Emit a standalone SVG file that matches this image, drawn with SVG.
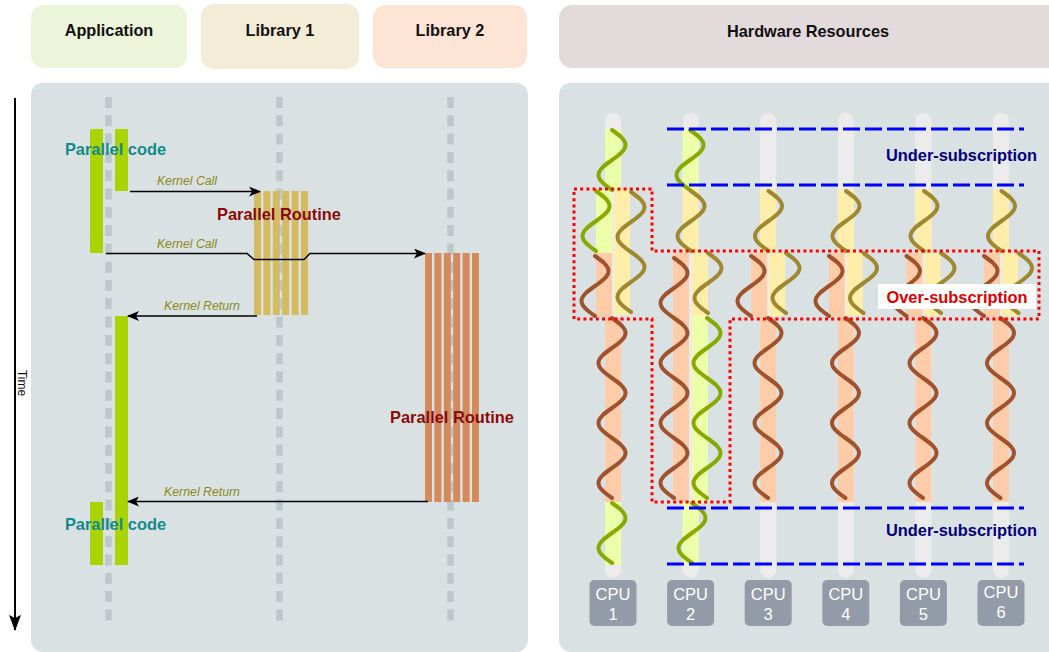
<svg xmlns="http://www.w3.org/2000/svg" xmlns:xlink="http://www.w3.org/1999/xlink" width="1049" height="652" viewBox="0 0 1049 652">
<style>
text{font-family:"Liberation Sans",Arial,sans-serif}
.hdr{font-size:16.3px;font-weight:bold;fill:#111;text-anchor:middle}
.pc{font-size:16.4px;font-weight:bold;fill:#138a8a;text-anchor:middle}
.pr{font-size:16.4px;font-weight:bold;fill:#8b0a0a;text-anchor:middle}
.kl{font-size:12.3px;font-style:italic;fill:#8a8a1a;text-anchor:middle}
.us{font-size:16.4px;font-weight:bold;fill:#000080;text-anchor:middle}
.os{font-size:16.4px;font-weight:bold;fill:#dd0000;text-anchor:middle}
.cpu{font-size:16.5px;fill:#fff;text-anchor:middle}
.lane{stroke:#bcc8cb;stroke-width:6.5;stroke-dasharray:11 7.3;fill:none}
.gb{fill:#aad400}.yb{fill:#d5bb5f}.ob{fill:#d58a5c}
.conn{stroke:#000;stroke-width:1.5;fill:none}
.trk{fill:#ececec}
.fg{fill:#eeffaa}.fy{fill:#ffeeaa}.fs{fill:#ffccaa}
.tg{stroke:#88aa00}.to{stroke:#a08830}.tb{stroke:#a0522d}
.blue{stroke:#0000ff;stroke-width:3;stroke-dasharray:17 5;fill:none}
.box{fill:#949ba8}
</style>
<defs>
<marker id="ah" viewBox="0 0 12 10" refX="11" refY="5" markerWidth="12" markerHeight="10" orient="auto" markerUnits="userSpaceOnUse"><path d="M0,0 L12,5 L0,10 L3,5 z" fill="#000"/></marker>
<marker id="ah2" viewBox="0 0 16 12" refX="15" refY="6" markerWidth="16" markerHeight="12" orient="auto" markerUnits="userSpaceOnUse"><path d="M0,0 L16,6 L0,12 L3,6 z" fill="#000"/></marker>
<path id="w1" fill="none" stroke-width="4" stroke-linecap="round" d="M0,0 C7.09,5.01 13.5,9.58 13.5,15 S7.09,24.99 0,30 S-13.5,39.58 -13.5,45 S-7.09,54.99 0,60"/>
<path id="w2" fill="none" stroke-width="4" stroke-linecap="round" d="M0,0 C7.09,5.01 13.5,9.58 13.5,15 S7.09,24.99 0,30 S-13.5,39.58 -13.5,45 S-7.09,54.99 0,60 S13.5,69.58 13.5,75 S7.09,84.99 0,90 S-13.5,99.58 -13.5,105 S-7.09,114.99 0,120"/>
<path id="w3" fill="none" stroke-width="4" stroke-linecap="round" d="M0,0 C7.09,5.01 13.5,9.58 13.5,15 S7.09,24.99 0,30 S-13.5,39.58 -13.5,45 S-7.09,54.99 0,60 S13.5,69.58 13.5,75 S7.09,84.99 0,90 S-13.5,99.58 -13.5,105 S-7.09,114.99 0,120 S13.5,129.58 13.5,135 S7.09,144.99 0,150 S-13.5,159.58 -13.5,165 S-7.09,174.99 0,180"/>
<path id="w4" fill="none" stroke-width="4" stroke-linecap="round" d="M0,0 C7.09,5.01 13.5,9.58 13.5,15 S7.09,24.99 0,30 S-13.5,39.58 -13.5,45 S-7.09,54.99 0,60 S13.5,69.58 13.5,75 S7.09,84.99 0,90 S-13.5,99.58 -13.5,105 S-7.09,114.99 0,120 S13.5,129.58 13.5,135 S7.09,144.99 0,150 S-13.5,159.58 -13.5,165 S-7.09,174.99 0,180 S13.5,189.58 13.5,195 S7.09,204.99 0,210 S-13.5,219.58 -13.5,225 S-7.09,234.99 0,240"/>
</defs>

<g id="header-application"><rect x="31" y="5" width="156" height="63" rx="13" fill="#ecf4da"/><text class="hdr" x="109" y="36">Application</text></g>
<g id="header-library1"><rect x="201" y="4" width="158" height="65" rx="13" fill="#f3ecd7"/><text class="hdr" x="280" y="36">Library 1</text></g>
<g id="header-library2"><rect x="373" y="5" width="154" height="63" rx="13" fill="#fde4d4"/><text class="hdr" x="450" y="36">Library 2</text></g>
<g id="header-hardware"><rect x="559" y="5" width="520" height="63" rx="13" fill="#e3dadb"/><text class="hdr" x="808" y="37">Hardware Resources</text></g>

<g id="time-axis">
<line x1="15" y1="98" x2="15" y2="630" stroke="#000" stroke-width="2" marker-end="url(#ah2)"/>
<text x="18" y="383" font-size="12" fill="#111" text-anchor="middle" transform="rotate(90 18 383)">Time</text>
</g>

<g id="software-panel">
<rect x="31" y="83" width="497" height="569" rx="12" fill="#dae1e3"/>
<line class="lane" x1="108.5" y1="97" x2="108.5" y2="626"/>
<line class="lane" x1="279.5" y1="97" x2="279.5" y2="626"/>
<line class="lane" x1="450.5" y1="97" x2="450.5" y2="626"/>
</g>

<g id="app-code">
<rect class="gb" x="90" y="129" width="13" height="124"/>
<rect class="gb" x="115" y="129" width="13" height="62"/>
<rect class="gb" x="115" y="316" width="13" height="249"/>
<rect class="gb" x="90" y="502" width="13" height="63"/>
<text class="pc" x="115.5" y="155">Parallel code</text>
<text class="pc" x="115.5" y="530">Parallel code</text>
</g>

<g id="library1-routine">
<rect class="yb" x="254" y="191" width="7" height="124"/>
<rect class="yb" x="263.4" y="191" width="7" height="124"/>
<rect class="yb" x="272.8" y="191" width="7" height="124"/>
<rect class="yb" x="282.2" y="191" width="7" height="124"/>
<rect class="yb" x="291.6" y="191" width="7" height="124"/>
<rect class="yb" x="301" y="191" width="7" height="124"/>
<text class="pr" x="279" y="220">Parallel Routine</text>
</g>

<g id="library2-routine">
<rect class="ob" x="425" y="253" width="7" height="249"/>
<rect class="ob" x="434.4" y="253" width="7" height="249"/>
<rect class="ob" x="443.8" y="253" width="7" height="249"/>
<rect class="ob" x="453.2" y="253" width="7" height="249"/>
<rect class="ob" x="462.6" y="253" width="7" height="249"/>
<rect class="ob" x="472" y="253" width="7" height="249"/>
<text class="pr" x="452" y="423">Parallel Routine</text>
</g>

<g id="connectors">
<path class="conn" d="M130,191.5 H260" marker-end="url(#ah)"/>
<text class="kl" x="187" y="185">Kernel Call</text>
<path class="conn" d="M106,253.5 H247 L254,259.5 H304 L310,253.5 H425" marker-end="url(#ah)"/>
<text class="kl" x="187" y="248">Kernel Call</text>
<path class="conn" d="M257,316 H128" marker-end="url(#ah)"/>
<text class="kl" x="202" y="310">Kernel Return</text>
<path class="conn" d="M428,501.5 H128" marker-end="url(#ah)"/>
<text class="kl" x="202" y="496">Kernel Return</text>
</g>

<g id="hardware-panel">
<rect x="559" y="83" width="520" height="569" rx="12" fill="#dae1e3"/>
</g>

<g id="cpu1">
<rect class="trk" x="605" y="113" width="16" height="465" rx="8"/>
<rect class="fg" x="605" y="129" width="16" height="60"/>
<rect class="fg" x="596" y="189" width="16" height="64"/>
<rect class="fy" x="614" y="189" width="16" height="126"/>
<rect class="fs" x="596" y="253" width="16" height="64"/>
<rect class="fs" x="605" y="317" width="16" height="185"/>
<rect class="fg" x="605" y="502" width="16" height="63"/>
<use xlink:href="#w1" x="612" y="130" class="tg"/>
<use xlink:href="#w1" x="596" y="191" class="tg"/>
<use xlink:href="#w2" x="631" y="192" class="to"/>
<use xlink:href="#w1" x="595" y="256" class="tb"/>
<use xlink:href="#w3" x="612" y="318" class="tb"/>
<use xlink:href="#w1" x="612" y="503" class="tg"/>
<rect class="box" x="589.5" y="580" width="47" height="46" rx="5"/>
<text class="cpu" x="613" y="600">CPU</text><text class="cpu" x="613" y="620">1</text>
</g>

<g id="cpu2">
<rect class="trk" x="682.6" y="113" width="16" height="465" rx="8"/>
<rect class="fg" x="682.6" y="129" width="16" height="60"/>
<rect class="fy" x="682.6" y="189" width="16" height="64"/>
<rect class="fs" x="673" y="253" width="16" height="249"/>
<rect class="fy" x="692" y="253" width="16" height="63"/>
<rect class="fg" x="692" y="316" width="16" height="187"/>
<rect class="fg" x="682.6" y="502" width="16" height="63"/>
<use xlink:href="#w1" x="690" y="130" class="tg"/>
<use xlink:href="#w1" x="691" y="191" class="to"/>
<use xlink:href="#w4" x="674" y="258" class="tb"/>
<use xlink:href="#w1" x="708" y="253" class="to"/>
<use xlink:href="#w3" x="707" y="318" class="tg"/>
<use xlink:href="#w1" x="692" y="503" class="tg"/>
<rect class="box" x="667.1" y="580" width="47" height="46" rx="5"/>
<text class="cpu" x="690.6" y="600">CPU</text><text class="cpu" x="690.6" y="620">2</text>
</g>

<g id="cpu3">
<rect class="trk" x="760.2" y="113" width="16" height="465" rx="8"/>
<rect class="fy" x="760.2" y="190" width="16" height="63"/>
<rect class="fs" x="751.2" y="253" width="16" height="64"/>
<rect class="fy" x="769.2" y="253" width="16" height="63"/>
<rect class="fs" x="760.2" y="317" width="16" height="185"/>
<use xlink:href="#w1" x="768.5" y="191" class="to"/>
<use xlink:href="#w1" x="751" y="256" class="tb"/>
<use xlink:href="#w1" x="786" y="253" class="to"/>
<use xlink:href="#w3" x="768" y="318" class="tb"/>
<rect class="box" x="744.7" y="580" width="47" height="46" rx="5"/>
<text class="cpu" x="768.2" y="600">CPU</text><text class="cpu" x="768.2" y="620">3</text>
</g>

<g id="cpu4">
<rect class="trk" x="837.8" y="113" width="16" height="465" rx="8"/>
<rect class="fy" x="837.8" y="190" width="16" height="63"/>
<rect class="fs" x="828.8" y="253" width="16" height="64"/>
<rect class="fy" x="846.8" y="253" width="16" height="63"/>
<rect class="fs" x="837.8" y="317" width="16" height="185"/>
<use xlink:href="#w1" x="846" y="191" class="to"/>
<use xlink:href="#w1" x="829" y="256" class="tb"/>
<use xlink:href="#w1" x="863.5" y="253" class="to"/>
<use xlink:href="#w3" x="845.5" y="318" class="tb"/>
<rect class="box" x="822.3" y="580" width="47" height="46" rx="5"/>
<text class="cpu" x="845.8" y="600">CPU</text><text class="cpu" x="845.8" y="620">4</text>
</g>

<g id="cpu5">
<rect class="trk" x="915.4" y="113" width="16" height="465" rx="8"/>
<rect class="fy" x="915.4" y="190" width="16" height="63"/>
<rect class="fs" x="906.4" y="253" width="16" height="64"/>
<rect class="fy" x="924.4" y="253" width="16" height="63"/>
<rect class="fs" x="915.4" y="317" width="16" height="185"/>
<use xlink:href="#w1" x="924" y="191" class="to"/>
<use xlink:href="#w1" x="906.5" y="256" class="tb"/>
<use xlink:href="#w1" x="941" y="253" class="to"/>
<use xlink:href="#w3" x="923" y="318" class="tb"/>
<rect class="box" x="899.9" y="580" width="47" height="46" rx="5"/>
<text class="cpu" x="923.4" y="600">CPU</text><text class="cpu" x="923.4" y="620">5</text>
</g>

<g id="cpu6">
<rect class="trk" x="993" y="113" width="16" height="465" rx="8"/>
<rect class="fy" x="993" y="190" width="16" height="63"/>
<rect class="fs" x="984" y="253" width="16" height="64"/>
<rect class="fy" x="1002" y="253" width="16" height="63"/>
<rect class="fs" x="993" y="317" width="16" height="185"/>
<use xlink:href="#w1" x="1001.5" y="191" class="to"/>
<use xlink:href="#w1" x="984" y="256" class="tb"/>
<use xlink:href="#w1" x="1018.5" y="253" class="to"/>
<use xlink:href="#w3" x="1000.5" y="318" class="tb"/>
<rect class="box" x="977.5" y="580" width="47" height="46" rx="5"/>
<text class="cpu" x="1001" y="598">CPU</text><text class="cpu" x="1001" y="618">6</text>
</g>

<g id="under-subscription">
<line class="blue" x1="667" y1="129" x2="1024" y2="129"/>
<line class="blue" x1="667" y1="185" x2="1024" y2="185"/>
<text class="us" x="961.5" y="161">Under-subscription</text>
<line class="blue" x1="667" y1="508" x2="1024" y2="508"/>
<line class="blue" x1="667" y1="564" x2="1024" y2="564"/>
<text class="us" x="961.5" y="536">Under-subscription</text>
</g>

<g id="over-subscription">
<path d="M574,189 H652 V251 H1039 V319 H730 V502 H652 V319 H574 Z" fill="none" stroke="#ff0000" stroke-width="3" stroke-dasharray="3 3.2"/>
<rect x="878" y="284" width="158" height="25" fill="#fff"/>
<text class="os" x="957" y="302.5">Over-subscription</text>
</g>
</svg>
